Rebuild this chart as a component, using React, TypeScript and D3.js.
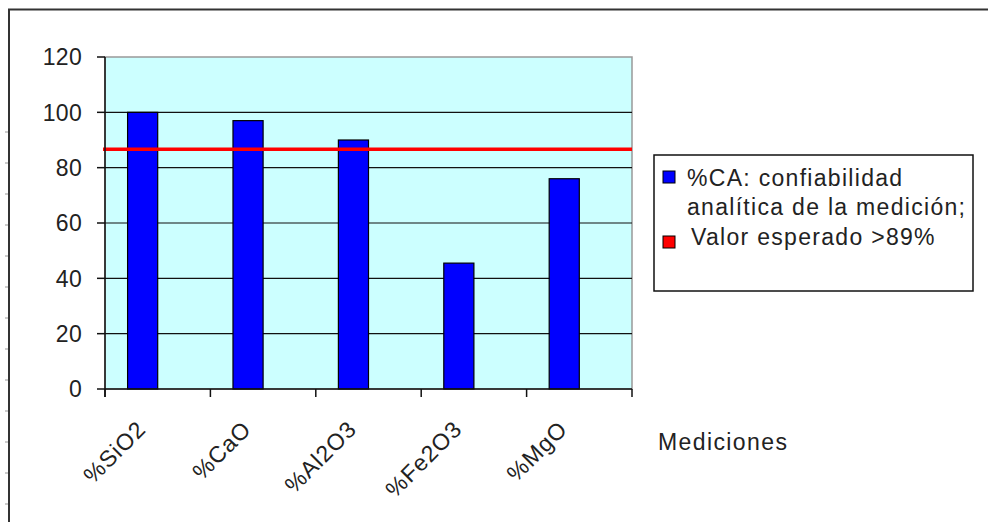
import React from "react";
import * as d3 from "d3";

const categories = ["%SiO2", "%CaO", "%Al2O3", "%Fe2O3", "%MgO"];
const caValues = [100, 97, 90, 45.5, 76];
const expectedValue = 86.7;
const yTicks = [0, 20, 40, 60, 80, 100, 120];
const legendLines1 = ["%CA: confiabilidad", "analítica de la medición;"];
const legendLabel2 = "Valor esperado >89%";
const xTitle = "Mediciones";

const W = 988;
const H = 522;
const FONT = "'Liberation Sans', Arial, sans-serif";

export default function App() {
  const plot = { left: 105, right: 632, top: 57, bottom: 389 };
  const x = d3.scaleBand<string>().domain(categories).range([plot.left, plot.right]).padding(0);
  const bw = x.bandwidth();
  const gapWidth = 0.75; // Excel-style gap width
  const clusterW = bw / (1 + gapWidth);
  const gapHalf = (bw - clusterW) / 2;
  const inner = d3
    .scaleBand<string>()
    .domain(["ca", "exp"])
    .range([gapHalf, bw - gapHalf])
    .padding(0);
  const y = d3.scaleLinear().domain([0, 120]).range([plot.bottom, plot.top]);

  const ruler = d3.range(132, 522, 31);

  return (
    <svg
      width={W}
      height={H}
      style={{ position: "absolute", left: 0, top: 0, background: "#fff" }}
      fontFamily={FONT}
    >
      <rect x={0} y={0} width={W} height={H} fill="#fff" />
      {/* outer chart border (cropped on right & bottom) */}
      <rect x={9} y={9.5} width={W + 20} height={H + 20} fill="none" stroke="#333" strokeWidth={2} />
      {ruler.map((r) => (
        <line key={r} x1={5} x2={8} y1={r} y2={r} stroke="#999" strokeWidth={1} />
      ))}

      {/* plot area */}
      <rect
        x={plot.left}
        y={plot.top}
        width={plot.right - plot.left}
        height={plot.bottom - plot.top}
        fill="#CCFFFF"
        stroke="#999"
        strokeWidth={1.5}
      />
      {/* gridlines */}
      {yTicks
        .filter((t) => t > 0 && t < 120)
        .map((t) => (
          <line key={t} x1={plot.left} x2={plot.right} y1={y(t)} y2={y(t)} stroke="#111" strokeWidth={1.2} />
        ))}

      {/* bars */}
      {categories.map((c, i) => (
        <rect
          key={c}
          x={(x(c) as number) + (inner("ca") as number)}
          y={y(caValues[i])}
          width={inner.bandwidth()}
          height={y(0) - y(caValues[i])}
          fill="#0000FF"
          stroke="#000"
          strokeWidth={1.2}
        />
      ))}

      {/* expected line */}
      <line
        x1={plot.left - 2}
        x2={plot.right}
        y1={y(expectedValue)}
        y2={y(expectedValue)}
        stroke="#FF0000"
        strokeWidth={3.5}
      />

      {/* axes */}
      <line x1={plot.left} x2={plot.left} y1={plot.top} y2={plot.bottom + 8} stroke="#111" strokeWidth={1.5} />
      <line x1={plot.left} x2={plot.right} y1={plot.bottom} y2={plot.bottom} stroke="#111" strokeWidth={1.5} />
      {yTicks.map((t) => (
        <g key={t}>
          <line x1={plot.left - 8} x2={plot.left} y1={y(t)} y2={y(t)} stroke="#111" strokeWidth={1.5} />
          <text
            x={82}
            y={y(t)}
            dy="0.36em"
            textAnchor="end"
            fontSize={23}
            fill="#222"
            letterSpacing={0.3}
          >
            {t}
          </text>
        </g>
      ))}
      {[...categories.map((c) => x(c) as number), plot.right].map((v, i) => (
        <line key={i} x1={v} x2={v} y1={plot.bottom} y2={plot.bottom + 8} stroke="#111" strokeWidth={1.5} />
      ))}
      {categories.map((c) => {
        const cx = (x(c) as number) + bw / 2 - 22;
        const cy = plot.bottom + 30;
        return (
          <text
            key={c}
            transform={`translate(${cx},${cy}) rotate(-45)`}
            textAnchor="end"
            dy="0.71em"
            fontSize={23}
            fill="#222"
            letterSpacing={1}
          >
            {c}
          </text>
        );
      })}

      <text x={658} y={450} fontSize={23} fill="#222" letterSpacing={1.4}>
        {xTitle}
      </text>

      {/* legend */}
      <rect x={654} y={155} width={319} height={136} fill="#fff" stroke="#111" strokeWidth={1.5} />
      <rect x={663} y={171} width={12} height={12} fill="#0000FF" stroke="#000" strokeWidth={1} />
      <text x={687} y={186} fontSize={23} fill="#222" letterSpacing={1.3}>
        {legendLines1[0]}
      </text>
      <text x={687} y={215} fontSize={23} fill="#222" letterSpacing={1.3}>
        {legendLines1[1]}
      </text>
      <rect x={663} y={236} width={12} height={12} fill="#FF0000" stroke="#000" strokeWidth={1} />
      <text x={691} y={245} fontSize={23} fill="#222" letterSpacing={1.3}>
        {legendLabel2}
      </text>
    </svg>
  );
}
